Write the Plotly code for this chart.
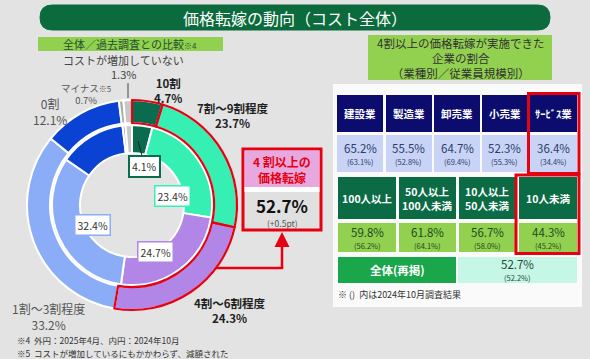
import plotly.graph_objects as go

# ---------------- data ----------------
categories = ["10割", "7割～9割程度", "4割～6割程度", "1割～3割程度", "0割", "マイナス※5", "コストが増加していない"]
outer_2025 = [4.7, 23.7, 24.3, 33.2, 12.1, 0.7, 1.3]
inner_2024 = [4.1, 23.4, 24.7, 32.4, 13.5, 0.6, 1.3]
total_4plus_2025 = 52.7
total_4plus_diff = "+0.5pt"

industries = ["建設業", "製造業", "卸売業", "小売業", "ｻｰﾋﾞｽ業"]
ind_2025 = [65.2, 55.5, 64.7, 52.3, 36.4]
ind_2024 = [63.1, 52.8, 69.4, 55.3, 34.4]

sizes = ["100人以上", "50人以上<br>100人未満", "10人以上<br>50人未満", "10人未満"]
size_2025 = [59.8, 61.8, 56.7, 44.3]
size_2024 = [56.2, 64.1, 58.0, 45.2]

overall_label = "全体(再掲)"
overall_2025 = 52.7
overall_2024 = 52.2

# ---------------- styling ----------------
W, H = 590, 359
FONT = "Noto Sans CJK JP"
BG = "#e3e3e3"
RED = "#e60012"
slice_colors = ["#0b6b4e", "#36efb3", "#b186e6", "#8badf7", "#0a42d3", "#aaaaaa", "#c8c8c8"]

def px(x):
    return x / W

def py(y):
    return 1 - y / H

def dom(cx, cy, r):
    return dict(x=[px(cx - r), px(cx + r)], y=[py(cy + r), py(cy - r)])

CX, CY = 132, 205
R_OUT, R_OUT_IN = 105, 82
R_IN, R_HOLE = 80, 52

fig = go.Figure()
fig.add_trace(go.Pie(values=outer_2025, labels=categories, domain=dom(CX, CY, R_OUT),
                     hole=R_OUT_IN / R_OUT, sort=False, direction="clockwise", rotation=0,
                     marker=dict(colors=slice_colors, line=dict(color="white", width=2)),
                     textinfo="none", hoverinfo="skip", showlegend=False))
fig.add_trace(go.Pie(values=inner_2024, labels=categories, domain=dom(CX, CY, R_IN),
                     hole=R_HOLE / R_IN, sort=False, direction="clockwise", rotation=0,
                     marker=dict(colors=slice_colors, line=dict(color="white", width=2)),
                     textinfo="none", hoverinfo="skip", showlegend=False))
# red outline of the 4割以上 slices (outer ring)
rest = round(100 - sum(outer_2025[:3]), 1)
fig.add_trace(go.Pie(values=outer_2025[:3] + [rest], labels=["a", "b", "c", "d"],
                     domain=dom(CX, CY, R_OUT), hole=R_OUT_IN / R_OUT, sort=False,
                     direction="clockwise", rotation=0,
                     marker=dict(colors=["rgba(0,0,0,0)"] * 4,
                                 line=dict(color=[RED, RED, RED, "rgba(0,0,0,0)"], width=[2.2, 2.2, 2.2, 0])),
                     textinfo="none", hoverinfo="skip", showlegend=False))

shapes = []
annotations = []

def rect(x0, y0, x1, y1, fill, line=None, lw=0, layer="below"):
    shapes.append(dict(type="rect", xref="paper", yref="paper", x0=px(x0), x1=px(x1),
                       y0=py(y1), y1=py(y0), fillcolor=fill,
                       line=dict(color=line or "rgba(0,0,0,0)", width=lw), layer=layer))

def line(x0, y0, x1, y1, color, w, layer="above"):
    shapes.append(dict(type="line", xref="paper", yref="paper", x0=px(x0), x1=px(x1),
                       y0=py(y0), y1=py(y1), line=dict(color=color, width=w), layer=layer))

def text(x, y, s, size=11, color="#333", bold=False, anchor="center", **kw):
    if bold:
        s = "<b>" + s.replace("<br>", "</b><br><b>") + "</b>"
    annotations.append(dict(x=px(x), y=py(y), xref="paper", yref="paper", text=s,
                            showarrow=False, xanchor=anchor, yanchor="middle",
                            font=dict(family=FONT, size=size, color=color), **kw))

# title bar (rounded pill)
x0, x1, y0, y1, r = 40, 550, 5, 30, 12.5
path = (f"M {px(x0+r)},{py(y0)} L {px(x1-r)},{py(y0)} "
        f"Q {px(x1)},{py(y0)} {px(x1)},{py((y0+y1)/2)} "
        f"Q {px(x1)},{py(y1)} {px(x1-r)},{py(y1)} "
        f"L {px(x0+r)},{py(y1)} "
        f"Q {px(x0)},{py(y1)} {px(x0)},{py((y0+y1)/2)} "
        f"Q {px(x0)},{py(y0)} {px(x0+r)},{py(y0)} Z")
shapes.append(dict(type="path", xref="paper", yref="paper", path=path,
                   fillcolor="#0b6b3c", line=dict(color="#0b6b3c", width=1), layer="below"))
text(295, 17.5, "価格転嫁の動向（コスト全体）", size=16, color="white")

# left header
rect(38, 37, 223, 51, "#92d050")
text(130, 44, "全体／過去調査との比較<span style='font-size:8px'>※4</span>", size=11, color="#1f4f2f")

# donut labels
text(123, 60, "コストが増加していない", size=11, color="#444")
text(123, 74.5, f"{outer_2025[6]}%", size=11, color="#444")
line(128, 83, 128, 98, "#444", 1)
text(86, 94, f"マイナス<span style='font-size:8px'>※5</span><br>{outer_2025[5]}%", size=9.5, color="#555")
text(50, 111, f"{categories[4]}<br>{outer_2025[4]}%", size=12, color="#555")
text(168, 91, f"{categories[0]}<br>{outer_2025[0]}%", size=11.5, color="#222", bold=True)
text(233, 115, f"{categories[1]}<br>{outer_2025[1]}%", size=11.5, color="#222", bold=True)
text(230, 310.5, f"{categories[2]}<br>{outer_2025[2]}%", size=11.5, color="#222", bold=True)
text(48, 316.5, f"{categories[3]}<br>{outer_2025[3]}%", size=12, color="#555")

# inner ring boxed labels
line(142, 156, 138, 141, "#222", 1)
box_cols = [slice_colors[0], slice_colors[1], slice_colors[2], slice_colors[3]]
inner_pos = [(144, 166), (172, 196), (155, 252), (92, 225)]
widths = [2, 1.5, 1.5, 1.5]
for i in range(4):
    x, y = inner_pos[i]
    text(x, y, f"{inner_2024[i]}%", size=10.5, color="#333", bgcolor="white",
         bordercolor=box_cols[i], borderwidth=widths[i], borderpad=2)

# 4割以上 box
rect(243, 149, 321, 230, "#e0e0e0", RED, 3, layer="above")
rect(244.5, 150.5, 319.5, 187, "#e6a8de", layer="above")
rect(244.5, 187, 319.5, 192, "white", layer="above")
text(282, 169, "4 割以上の<br>価格転嫁", size=12, color=RED, bold=True)
text(282, 205, f"{total_4plus_2025}%", size=17, color="#111", bold=True)
text(282, 222.5, f"({total_4plus_diff})", size=8.5, color="#555")
line(216, 268, 283.2, 268, RED, 2.5)
line(282, 268, 282, 240, RED, 2.5)
annotations.append(dict(x=px(282), y=py(232), ax=0, ay=14, xref="paper", yref="paper",
                        axref="pixel", ayref="pixel", text="", showarrow=True,
                        arrowhead=2, arrowsize=1.2, arrowwidth=2.5, arrowcolor=RED))

# footnotes left
text(15, 340, "※4  外円：2025年4月、内円：2024年10月", size=8.5, color="#333", anchor="left")
text(15, 352.5, "※5  コストが増加しているにもかかわらず、減額された", size=8.5, color="#333", anchor="left")

# right header
rect(368, 35, 552, 80, "#92d050")
text(460, 58, "4割以上の価格転嫁が実施できた<br>企業の割合<br>（業種別／従業員規模別）", size=11.5, color="#333")

# table panel
rect(333, 84, 582, 307, "#fafafa")

ind_x = [(337, 383), (386, 432), (434, 480), (482, 527), (530, 577)]
for i, (a, b) in enumerate(ind_x):
    rect(a, 95, b, 132, "#0c0c6e")
    text((a + b) / 2, 113.5, industries[i], size=10.5, color="white", bold=True)
    rect(a, 135, b, 172, "#c9d3f6")
    text((a + b) / 2, 147.5, f"{ind_2025[i]}%", size=11.5, color="#2b3d6b")
    text((a + b) / 2, 161.5, f"({ind_2024[i]}%)", size=7.5, color="#2b3d6b")
rect(528.5, 93.5, 579, 173.5, "rgba(0,0,0,0)", RED, 3, layer="above")

size_x = [(338, 396), (399, 456), (459, 515), (519, 577)]
for i, (a, b) in enumerate(size_x):
    rect(a, 177, b, 219, "#0b6b45")
    text((a + b) / 2, 198, sizes[i], size=10.5, color="white", bold=True)
    rect(a, 223, b, 252, "#92d050")
    text((a + b) / 2, 231.5, f"{size_2025[i]}%", size=11.5, color="#1e4a1e")
    text((a + b) / 2, 245, f"({size_2024[i]}%)", size=7.5, color="#1e4a1e")
rect(516, 175, 579, 253.5, "rgba(0,0,0,0)", RED, 3, layer="above")

rect(338, 257, 456, 283, "#1aa64a")
text(397, 270, overall_label, size=11.5, color="white", bold=True)
rect(458, 257, 577, 283, "#c6f6e6")
text(517, 264, f"{overall_2025}%", size=11.5, color="#1e4a3a")
text(517, 277, f"({overall_2024}%)", size=7.5, color="#1e4a3a")

text(336, 294, "※ ()  内は2024年10月調査結果", size=9, color="#333", anchor="left")

fig.update_layout(width=W, height=H, margin=dict(l=0, r=0, t=0, b=0),
                  paper_bgcolor=BG, plot_bgcolor=BG, shapes=shapes, annotations=annotations,
                  showlegend=False, font=dict(family=FONT))

fig.write_html("out.html", config={"displayModeBar": False},
               post_script="document.body.style.margin='0';")
